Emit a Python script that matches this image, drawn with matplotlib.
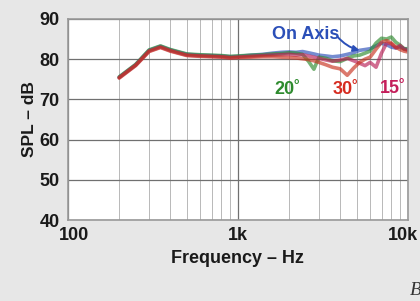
import matplotlib
matplotlib.use('Agg')
import matplotlib.pyplot as plt
import matplotlib.transforms as mtransforms
from matplotlib.ticker import FixedLocator, NullFormatter

# Frequency response, SPL in dB vs frequency in Hz
freqs = [200, 250, 300, 350, 400, 500, 600, 700, 800, 900,
         1000, 1200, 1400, 1600, 1800, 2000, 2200, 2400, 2600, 2800,
         3000, 3300, 3600, 4000, 4400, 4800, 5200, 5600, 6000, 6500,
         7000, 7500, 8000, 8500, 9000, 9500, 10000]
on_axis = [75.5, 78.6, 82.2, 83.2, 82.3, 81.2, 81.0, 80.9, 80.8, 80.6,
           80.7, 81.0, 81.2, 81.5, 81.7, 81.8, 81.7, 81.9, 81.6, 81.3,
           81.0, 80.8, 80.6, 80.8, 81.2, 81.6, 82.2, 82.4, 82.6, 83.3,
           84.0, 83.6, 83.0, 82.8, 83.0, 82.6, 82.4]
deg15 = [75.4, 78.5, 82.0, 83.0, 82.1, 81.0, 80.8, 80.7, 80.6, 80.4,
         80.5, 80.7, 80.9, 81.0, 81.1, 81.2, 81.0, 81.1, 80.8, 80.5,
         80.2, 79.8, 79.5, 79.8, 80.2, 79.6, 79.0, 78.4, 79.2, 78.0,
         81.5, 84.0, 83.8, 82.8, 83.4, 82.5, 82.2]
deg20 = [75.6, 78.7, 82.3, 83.3, 82.4, 81.3, 81.1, 81.0, 80.9, 80.7,
         80.8, 81.0, 81.1, 81.3, 81.4, 81.6, 81.5, 81.2, 79.5, 77.5,
         80.5, 80.2, 79.6, 79.4, 80.2, 80.8, 81.0, 81.5, 82.0, 84.0,
         85.2, 85.0, 85.5, 84.2, 83.5, 82.6, 82.6]
deg30 = [75.3, 78.4, 81.9, 82.9, 82.0, 80.9, 80.7, 80.6, 80.5, 80.3,
         80.4, 80.5, 80.6, 80.6, 80.5, 80.4, 80.3, 80.1, 79.9, 79.6,
         79.2, 78.6, 78.0, 77.6, 76.0, 77.8, 79.2, 80.0, 80.5, 82.5,
         84.2, 84.6, 84.0, 83.0, 82.4, 82.0, 81.8]

curves = [
    (on_axis, '#2b4fb8'),
    (deg20, '#2e8b2e'),
    (deg15, '#b81e55'),
    (deg30, '#c8321f'),
]

FONT = 'Liberation Sans'

fig = plt.figure(figsize=(4.2, 3.01), dpi=100, facecolor='#e7e7e7')
ax = fig.add_axes([0.162, 0.269, 0.809, 0.668])
ax.set_facecolor('white')

for vals, col in curves:
    ax.plot(freqs, vals, color=col, linewidth=2.6, alpha=0.65,
            solid_joinstyle='round', solid_capstyle='round')

ax.set_xscale('log')
ax.set_xlim(100, 10000)
ax.set_ylim(40, 90)

minor = [m * d for d in (100, 1000) for m in range(2, 10)]
ax.xaxis.set_major_locator(FixedLocator([100, 1000, 10000]))
ax.xaxis.set_minor_locator(FixedLocator(minor))
ax.xaxis.set_minor_formatter(NullFormatter())
ax.set_xticklabels(['100', '1k', '10k'])
ax.set_yticks([40, 50, 60, 70, 80, 90])

ax.grid(True, which='major', color='#707070', linewidth=0.9)
ax.grid(True, which='minor', axis='x', color='#b8b8b8', linewidth=0.7)
ax.set_axisbelow(True)
for sp in ax.spines.values():
    sp.set_color('#999999')
    sp.set_linewidth(1.2)

ax.tick_params(which='both', length=0)
ax.tick_params(axis='y', pad=6)
ax.tick_params(axis='x', pad=5)
for lab in ax.get_xticklabels() + ax.get_yticklabels():
    lab.set_fontfamily(FONT)
    lab.set_fontweight('bold')
    lab.set_fontsize(13)
    lab.set_color('#1a1a1a')

# the printed labels sit a little inside the outer ticks
shifts = [6, 0, -5]
for lab, dx in zip(ax.get_xticklabels(), shifts):
    off = mtransforms.ScaledTranslation(dx / 100, 0, fig.dpi_scale_trans)
    lab.set_transform(lab.get_transform() + off)

ax.set_xlabel('Frequency – Hz', fontsize=13, fontweight='bold',
              family=FONT, color='#1a1a1a', labelpad=4)
ax.set_ylabel('SPL – dB', fontsize=12.5, fontweight='bold',
              family=FONT, color='#1a1a1a', labelpad=2)

ax.text(2500, 86.2, 'On Axis', fontsize=13, fontweight='bold',
        family=FONT, color='#2b4fb8', ha='center', va='center')
ax.annotate('', xy=(5200, 82.2), xytext=(3850, 85.6),
            arrowprops=dict(arrowstyle='-|>', color='#2b4fb8', lw=1.4,
                            mutation_scale=9, shrinkA=0, shrinkB=0,
                            connectionstyle='arc3,rad=0.15'))
ax.text(1950, 72.5, '20˚', fontsize=13, fontweight='bold',
        family=FONT, color='#2e8b2e', ha='center', va='center')
ax.text(4300, 72.5, '30˚', fontsize=13, fontweight='bold',
        family=FONT, color='#d62b1f', ha='center', va='center')
ax.text(8200, 72.7, '15˚', fontsize=13, fontweight='bold',
        family=FONT, color='#c41e5a', ha='center', va='center')

fig.text(0.975, 0.035, 'B', fontsize=14, family='Liberation Serif',
         style='italic', color='#333333', ha='left', va='center')

fig.savefig('out.png', dpi=100, facecolor=fig.get_facecolor())
